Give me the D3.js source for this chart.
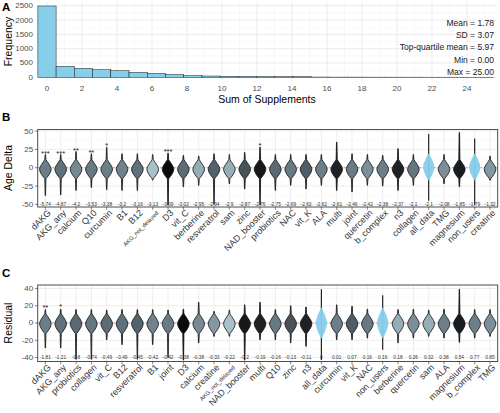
<!DOCTYPE html>
<html>
<head>
<meta charset="utf-8">
<script src="https://cdn.jsdelivr.net/npm/d3@7"></script>
<style>
  body { margin: 0; background: #fff; }
  svg { display: block; font-family: "Liberation Sans", Arial, sans-serif; }
</style>
</head>
<body>
<svg id="chart"></svg>
<script>

	/*
		Data - panel A (histogram)
	 */

	var histCounts = [2490, 385, 315, 265, 230, 175, 140, 100, 56, 45, 35, 30, 27, 22, 20, 8, 6, 6, 5, 5, 4, 3, 3, 2, 2];
	var histXTicks = [0, 2, 4, 6, 8, 10, 12, 14, 16, 18, 20, 22, 24];
	var histYTicks = [0, 500, 1000, 1500, 2000, 2500];
	var statLines = ["Mean = 1.78", "SD = 3.07", "Top-quartile mean = 5.97", "Min = 0.00", "Max = 25.00"];

	/*
		Data - panel B (age delta)
	 */

	var bNames = ["dAKG", "AKG_any", "calcium", "Q10", "curcumin", "B1", "B12", "AKG_not_delayed", "D3", "vit_C",
		"berberine", "resveratrol", "sam", "zinc", "NAD_booster", "probiotics", "NAC", "vit_K", "ALA", "multi",
		"joint", "quercetin", "b_complex", "n3", "collagen", "all_data", "TMG", "magnesium", "non_users", "creatine"];
	var bMeans = [-5.74, -4.87, -4.2, -3.53, -3.38, -3.2, -3.16, -3.13, -3.09, -3.02,
		-2.95, -2.94, -2.9, -2.87, -2.76, -2.75, -2.69, -2.63, -2.62, -2.61,
		-2.46, -2.42, -2.38, -2.37, -2.1, -2.1, -2.08, -1.85, -1.79, -1.32];
	var bMax = [18, 18, 22, 19, 28, 19, 19, 18, 20, 17, 16, 19, 18, 21, 28, 18, 18, 18, 18, 35,
		19, 18, 17, 26, 18, 46, 18, 48, 40, 16];
	var bMin = [-38, -37, -31, -27, -30, -31, -31, -17, -51, -26, -24, -50, -22, -29, -51, -31, -24, -29, -24, -31,
		-33, -24, -25, -31, -24, -45, -22, -26, -51, -17];
	var bStars = ["***", "***", "**", "**", "*", "", "", "", "***", "", "", "", "", "", "*", "", "", "", "", "",
		"", "", "", "", "", "", "", "", "", ""];
	var bYTicks = [-50, -25, 0, 25, 50];

	/*
		Data - panel C (residual)
	 */

	var cNames = ["dAKG", "AKG_any", "probiotics", "collagen", "vit_C", "B12", "resveratrol", "B1", "joint", "D3",
		"calcium", "creatine", "AKG_not_delayed", "NAD_booster", "multi", "Q10", "zinc", "n3", "all_data", "curcumin",
		"vit_K", "NAC", "non_users", "berberine", "quercetin", "sam", "ALA", "magnesium", "b_complex", "TMG"];
	var cMeans = [-1.81, -1.21, -0.8, -0.74, -0.49, -0.49, -0.45, -0.42, -0.42, -0.38,
		-0.38, -0.33, -0.22, -0.2, -0.19, -0.16, -0.13, -0.11, 0, 0.01,
		0.07, 0.16, 0.16, 0.18, 0.26, 0.32, 0.38, 0.54, 0.77, 0.85];
	var cMax = [15.5, 16, 15.5, 15.5, 15, 15.5, 15.5, 15.5, 15, 16, 24, 13.5, 15, 21, 24, 15.5, 20, 18.5, 39, 21,
		19.5, 16, 32, 15.5, 16, 15, 16, 39, 15.5, 15.5];
	var cMin = [-29, -29, -42, -42, -19.5, -25, -42, -25, -40, -43, -23, -15.5, -15.5, -43, -19.5, -19.5, -23, -27, -43, -19.5,
		-19.5, -17.5, -31, -23, -17.5, -15.5, -17.5, -22.5, -17.5, -15.5];
	var cStars = ["**", "*", "", "", "", "", "", "", "", "", "", "", "", "", "", "", "", "", "", "",
		"", "", "", "", "", "", "", "", "", ""];
	var cYTicks = [-40, -20, 0, 20, 40];

	// group sizes (drive how dark the violins look)
	var groupNames = ["dAKG", "AKG_any", "calcium", "Q10", "curcumin", "B1", "B12", "AKG_not_delayed", "D3", "vit_C",
		"berberine", "resveratrol", "sam", "zinc", "NAD_booster", "probiotics", "NAC", "vit_K", "ALA", "multi",
		"joint", "quercetin", "b_complex", "n3", "collagen", "all_data", "TMG", "magnesium", "non_users", "creatine"];
	var groupN = [150, 200, 120, 170, 150, 140, 200, 40, 900, 220,
		60, 260, 60, 320, 750, 230, 170, 280, 150, 650,
		160, 110, 150, 650, 180, 4400, 110, 700, 2490, 90];
	var highlightGroups = ["all_data", "non_users"];

	// hand read violin body outline: relative position / relative half width
	var profileT = [-1, -0.8, -0.6, -0.4, -0.2, 0.05, 0.3, 0.5, 0.7, 0.85, 1];
	var profileW = [0.1, 0.36, 0.6, 0.8, 0.95, 1, 0.86, 0.66, 0.44, 0.26, 0.1];

	/*
		Canvas
	 */

	var W = 500, H = 413;
	var svg = d3.select("#chart").attr("width", W).attr("height", H);

	var nMap = {};
	groupNames.forEach(function(n, i){ nMap[n] = groupN[i]; });

	var shade = d3.scaleLog()
		.domain([40, 250, 900])
		.range(["#a9c0cc", "#55666f", "#0b0b0b"])
		.clamp(true);

	function panelLetter(txt, y){
		svg.append("text").attr("x", 2).attr("y", y)
			.attr("font-size", 11.5).attr("font-weight", "bold").text(txt);
	}

	function yTitle(txt, y){
		svg.append("text")
			.attr("transform", "translate(8," + y + ") rotate(-90)")
			.attr("text-anchor", "middle").attr("dominant-baseline", "central")
			.attr("font-size", 10.5).text(txt);
	}

	/*
		Panel A - histogram
	 */

	var xA = d3.scaleLinear().domain([-0.571, 25.714]).range([37, 497]);
	var yA = d3.scaleLinear().domain([0, 2500]).range([77.3, 5.7]);
	var aTop = 2.4, aBottom = 80.9;
	var binW = 25 / 24;
	var gA = svg.append("g");

	// minor grid
	d3.range(1, 26, 2).forEach(function(v){
		gA.append("line").attr("x1", xA(v)).attr("x2", xA(v)).attr("y1", aTop).attr("y2", aBottom)
			.attr("stroke", "#f0f0f0").attr("stroke-width", 0.5);
	});
	d3.range(250, 2600, 500).forEach(function(v){
		gA.append("line").attr("x1", 37).attr("x2", 497).attr("y1", yA(v)).attr("y2", yA(v))
			.attr("stroke", "#f0f0f0").attr("stroke-width", 0.5);
	});
	// major grid
	histXTicks.forEach(function(v){
		gA.append("line").attr("x1", xA(v)).attr("x2", xA(v)).attr("y1", aTop).attr("y2", aBottom)
			.attr("stroke", "#e6e6e6").attr("stroke-width", 0.8);
	});
	histYTicks.forEach(function(v){
		gA.append("line").attr("x1", 37).attr("x2", 497).attr("y1", yA(v)).attr("y2", yA(v))
			.attr("stroke", "#e6e6e6").attr("stroke-width", 0.8);
	});

	gA.selectAll("rect.bar").data(histCounts).enter().append("rect")
		.attr("class", "bar")
		.attr("x", function(d, i){ return xA(i * binW - binW / 2); })
		.attr("width", xA(binW) - xA(0))
		.attr("y", function(d){ return yA(d); })
		.attr("height", function(d){ return yA(0) - yA(d); })
		.attr("fill", "#87ceeb").attr("stroke", "#1a1a1a").attr("stroke-width", 0.5);

	histYTicks.forEach(function(v){
		gA.append("text").attr("x", 33).attr("y", yA(v)).attr("text-anchor", "end")
			.attr("dominant-baseline", "central").attr("font-size", 8).attr("fill", "#4d4d4d").text(v);
	});
	histXTicks.forEach(function(v){
		gA.append("text").attr("x", xA(v)).attr("y", 88).attr("text-anchor", "middle")
			.attr("dominant-baseline", "central").attr("font-size", 8).attr("fill", "#4d4d4d").text(v);
	});
	gA.append("text").attr("x", 267).attr("y", 98.5).attr("text-anchor", "middle")
		.attr("dominant-baseline", "central").attr("font-size", 10.5).text("Sum of Supplements");

	statLines.forEach(function(s, i){
		gA.append("text").attr("x", 494).attr("y", 23 + i * 12.2).attr("text-anchor", "end")
			.attr("dominant-baseline", "central").attr("font-size", 8.5).attr("fill", "#1a1a1a").text(s);
	});

	panelLetter("A", 10.5);
	yTitle("Frequency", 41.5);

	/*
		Violin panels
	 */

	function violinPanel(o){
		var g = svg.append("g");
		var x = d3.scaleBand().domain(o.names).range([o.left, o.right]);
		var y = d3.scaleLinear().domain(o.domain).range([o.bottom, o.top]);
		var cx = function(n){ return x(n) + x.bandwidth() / 2; };

		g.append("rect").attr("x", o.left).attr("y", o.top)
			.attr("width", o.right - o.left).attr("height", o.bottom - o.top).attr("fill", "#fff");

		// grid
		for(var i = 0; i < o.ticks.length - 1; i++){
			var mid = (o.ticks[i] + o.ticks[i + 1]) / 2;
			g.append("line").attr("x1", o.left).attr("x2", o.right).attr("y1", y(mid)).attr("y2", y(mid))
				.attr("stroke", "#f2f2f2").attr("stroke-width", 0.5);
		}
		o.ticks.forEach(function(v){
			g.append("line").attr("x1", o.left).attr("x2", o.right).attr("y1", y(v)).attr("y2", y(v))
				.attr("stroke", "#e8e8e8").attr("stroke-width", 0.8);
		});
		o.names.forEach(function(n){
			g.append("line").attr("x1", cx(n)).attr("x2", cx(n)).attr("y1", o.top).attr("y2", o.bottom)
				.attr("stroke", "#e8e8e8").attr("stroke-width", 0.8);
		});

		// reference line at zero
		g.append("line").attr("x1", o.left).attr("x2", o.right).attr("y1", y(0)).attr("y2", y(0))
			.attr("stroke", "#e0706b").attr("stroke-width", 0.8).attr("stroke-dasharray", "2,1.6");

		var halfW = 5.8;

		o.names.forEach(function(n, i){
			var c = cx(n);
			var hi = highlightGroups.indexOf(n) >= 0;

			if(hi){
				g.append("line").attr("x1", c).attr("x2", c).attr("y1", y(o.max[i])).attr("y2", y(o.min[i]))
					.attr("stroke", "#111").attr("stroke-width", 1.1);
				var blob = profileT.map(function(t, k){ return [o.blobCenter + t * o.blobHalf, profileW[k]]; });
				var right = blob.map(function(p){ return [c + p[1] * 5.6, y(p[0])]; });
				var left = blob.slice().reverse().map(function(p){ return [c - p[1] * 5.6, y(p[0])]; });
				g.append("path").attr("d", d3.line().curve(d3.curveCatmullRomClosed)(right.concat(left)))
					.attr("fill", "#87ceeb").attr("fill-opacity", 0.95);
				return;
			}

			var pts = [[o.min[i], 0.035]];
			profileT.forEach(function(t, k){ pts.push([o.bodyCenter + t * o.bodyHalf, profileW[k]]); });
			pts.push([o.max[i], 0.035]);
			var rightSide = pts.map(function(p){ return [c + p[1] * halfW, y(p[0])]; });
			var leftSide = pts.slice().reverse().map(function(p){ return [c - p[1] * halfW, y(p[0])]; });

			g.append("path").attr("d", d3.line()(rightSide.concat(leftSide)) + "Z")
				.attr("fill", shade(nMap[n])).attr("stroke", "#111").attr("stroke-width", 0.8)
				.attr("stroke-linejoin", "round");
		});

		// significance stars (just above each violin) and mean labels
		o.names.forEach(function(n, i){
			if(o.stars[i]){
				g.append("text").attr("x", cx(n)).attr("y", y(o.max[i]) + o.starShift).attr("text-anchor", "middle")
					.attr("font-size", 7.5).attr("fill", "#1a1a1a").text(o.stars[i]);
			}
			g.append("text").attr("x", cx(n)).attr("y", y(o.labelY)).attr("text-anchor", "middle")
				.attr("dominant-baseline", "central").attr("font-size", 4.8).attr("fill", "#333")
				.text(o.means[i]);
		});

		// border
		g.append("rect").attr("x", o.left).attr("y", o.top)
			.attr("width", o.right - o.left).attr("height", o.bottom - o.top)
			.attr("fill", "none").attr("stroke", "#4d4d4d").attr("stroke-width", 1);

		// y axis
		o.ticks.forEach(function(v){
			g.append("line").attr("x1", o.left - 2.8).attr("x2", o.left).attr("y1", y(v)).attr("y2", y(v))
				.attr("stroke", "#333").attr("stroke-width", 0.6);
			g.append("text").attr("x", o.left - 4.5).attr("y", y(v)).attr("text-anchor", "end")
				.attr("dominant-baseline", "central").attr("font-size", 8).attr("fill", "#4d4d4d").text(v);
		});

		// x axis
		o.names.forEach(function(n){
			g.append("line").attr("x1", cx(n)).attr("x2", cx(n)).attr("y1", o.bottom).attr("y2", o.bottom + 2.8)
				.attr("stroke", "#333").attr("stroke-width", 0.6);
			g.append("text")
				.attr("transform", "translate(" + (cx(n) + 6) + "," + (o.bottom + 6.5) + ") rotate(-45)")
				.attr("text-anchor", "end")
				.attr("font-size", n.length > 12 ? 5.8 : 9)
				.attr("fill", "#333").text(n);
		});
	}

	violinPanel({
		names: bNames, means: bMeans, max: bMax, min: bMin, stars: bStars, ticks: bYTicks,
		left: 37.7, right: 497.7, top: 129.5, bottom: 207, domain: [-53.6, 52.2],
		bodyCenter: -2, bodyHalf: 13, blobCenter: 1, blobHalf: 18,
		starShift: 1, labelY: -50
	});
	panelLetter("B", 120.5);
	yTitle("Age Delta", 168);

	violinPanel({
		names: cNames, means: cMeans, max: cMax, min: cMin, stars: cStars, ticks: cYTicks,
		left: 37.7, right: 497.7, top: 285, bottom: 361.5, domain: [-44.6, 44],
		bodyCenter: -0.8, bodyHalf: 11.5, blobCenter: 0, blobHalf: 17.5,
		starShift: 0, labelY: -40
	});
	panelLetter("C", 276.5);
	yTitle("Residual", 323);

</script>
</body>
</html>
